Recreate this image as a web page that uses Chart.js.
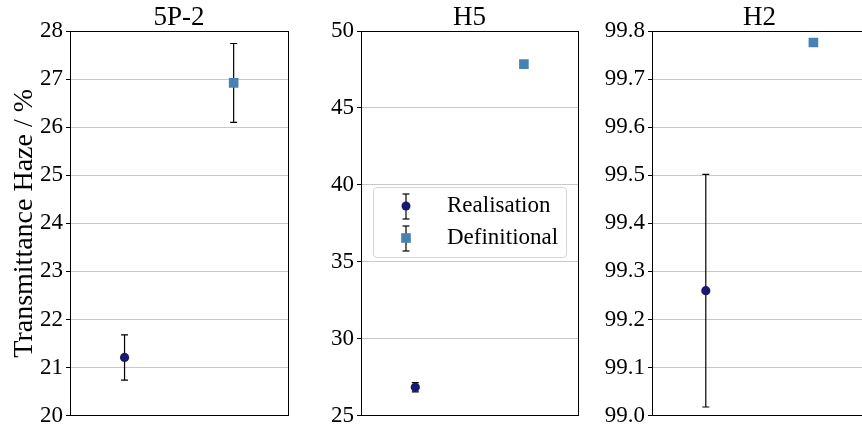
<!DOCTYPE html>
<html>
<head>
<meta charset="utf-8">
<script src="https://cdn.jsdelivr.net/npm/chart.js@4.4.1/dist/chart.umd.min.js"></script>
<style>
  html, body { margin: 0; padding: 0; background: #fff; }
  body { width: 862px; height: 429px; position: relative; overflow: hidden; }
  canvas { position: absolute; top: 0; }
  .legend {
    position: absolute; left: 373px; top: 187px; width: 192px; height: 69px;
    border: 1px solid #d6d6d6; border-radius: 4px; background: rgba(255,255,255,0.85);
    font-family: "Liberation Serif", "Times New Roman", serif; font-size: 23px; color: #000;
  }
  .legend .row { position: absolute; left: 0; height: 30px; width: 100%; }
  .legend svg { position: absolute; left: 24px; top: 0; }
  .legend span { position: absolute; left: 73px; top: 2px; }
</style>
</head>
<body>
<canvas id="c1" width="295" height="429" style="left:0px"></canvas>
<canvas id="c2" width="294" height="429" style="left:291px"></canvas>
<canvas id="c3" width="302" height="429" style="left:572px"></canvas>
<div class="legend">
  <div class="row" style="top:2px">
    <svg width="16" height="30"><line x1="8" y1="4" x2="8" y2="29" stroke="#000" stroke-width="1.2"/><line x1="4.5" y1="4" x2="11.5" y2="4" stroke="#000" stroke-width="1.2"/><line x1="4.5" y1="29" x2="11.5" y2="29" stroke="#000" stroke-width="1.2"/><circle cx="8" cy="16" r="4.5" fill="#191970"/></svg>
    <span>Realisation</span>
  </div>
  <div class="row" style="top:34px">
    <svg width="16" height="30"><line x1="8" y1="4" x2="8" y2="29" stroke="#000" stroke-width="1.2"/><line x1="4.5" y1="4" x2="11.5" y2="4" stroke="#000" stroke-width="1.2"/><line x1="4.5" y1="29" x2="11.5" y2="29" stroke="#000" stroke-width="1.2"/><rect x="3.2" y="11.2" width="9.6" height="9.6" fill="#4682b4"/></svg>
    <span>Definitional</span>
  </div>
</div>
<script>
// panel titles
const panels = ['5P-2', 'H5', 'H2'];
// mean values
const realisation = [21.21, 26.84, 99.26];
const realisationErr = [0.47, 0.3, 0.242];
const definitional = [26.92, 47.85, 99.776];
const definitionalErr = [0.82, 0.2, 0.005];
// y axis ranges / tick steps
const yMin = [20, 25, 99.0];
const yMax = [28, 50, 99.8];
const yStep = [1, 5, 0.1];
const yDecimals = [0, 0, 1];
const yAxisWidth = [70, 70, 80];

const SERIF = '"Liberation Serif", "Times New Roman", serif';
const DARK = '#191970';
const LIGHT = '#4682b4';

// top + right spines
const frame = {
  id: 'frame',
  afterDatasetsDraw(chart) {
    const { ctx, chartArea: a } = chart;
    ctx.save();
    ctx.strokeStyle = '#000';
    ctx.lineWidth = 1;
    ctx.beginPath();
    ctx.moveTo(a.left, Math.round(a.top) + 0.5);
    ctx.lineTo(a.right, Math.round(a.top) + 0.5);
    ctx.moveTo(Math.round(a.right) + 0.5, a.top);
    ctx.lineTo(Math.round(a.right) + 0.5, a.bottom);
    ctx.stroke();
    ctx.restore();
  }
};

function errBar(x, y, e, order) {
  return {
    type: 'line',
    data: [{ x: x, y: y - e }, { x: x, y: y + e }],
    borderColor: '#000',
    borderWidth: 1.2,
    pointStyle: 'line',
    pointRadius: 3.5,
    pointBorderColor: '#000',
    pointBorderWidth: 1.2,
    pointHoverRadius: 0,
    order: order
  };
}

panels.forEach((name, i) => {
  new Chart(document.getElementById('c' + (i + 1)), {
    type: 'scatter',
    data: {
      datasets: [
        errBar(0, realisation[i], realisationErr[i], 2),
        errBar(1, definitional[i], definitionalErr[i], 2),
        {
          label: 'Realisation',
          data: [{ x: 0, y: realisation[i] }],
          pointStyle: 'circle',
          pointRadius: 4.6,
          backgroundColor: DARK,
          borderColor: DARK,
          borderWidth: 0,
          order: 0
        },
        {
          label: 'Definitional',
          data: [{ x: 1, y: definitional[i] }],
          pointStyle: 'rect',
          pointRadius: 6.8,
          backgroundColor: LIGHT,
          borderColor: LIGHT,
          borderWidth: 0,
          order: 0
        }
      ]
    },
    options: {
      responsive: false,
      animation: false,
      layout: { padding: { top: 0, right: 6, bottom: 0, left: 0 } },
      plugins: {
        legend: { display: false },
        tooltip: { enabled: false },
        title: {
          display: true,
          text: name,
          fullSize: false,
          color: '#000',
          font: { family: SERIF, size: 27, weight: 'normal', lineHeight: 1 },
          padding: { top: 4, bottom: 0 }
        }
      },
      scales: {
        x: {
          type: 'linear',
          min: -0.5,
          max: 1.5,
          ticks: { display: false },
          grid: { display: false },
          border: { display: true, color: '#000', width: 1 }
        },
        y: {
          min: yMin[i],
          max: yMax[i],
          afterFit: s => { s.width = yAxisWidth[i]; },
          ticks: {
            stepSize: yStep[i],
            color: '#000',
            padding: 3,
            font: { family: SERIF, size: 23, lineHeight: 0.9 },
            callback: v => Number(v).toFixed(yDecimals[i])
          },
          grid: { color: '#c8c8c8', lineWidth: 1, tickColor: '#000', tickLength: 4 },
          border: { display: true, color: '#000', width: 1 },
          title: {
            display: i === 0,
            text: 'Transmittance Haze / %',
            color: '#000',
            font: { family: SERIF, size: 28 },
            padding: { top: 8, bottom: 0 }
          }
        }
      }
    },
    plugins: [frame]
  });
});
</script>
</body>
</html>
